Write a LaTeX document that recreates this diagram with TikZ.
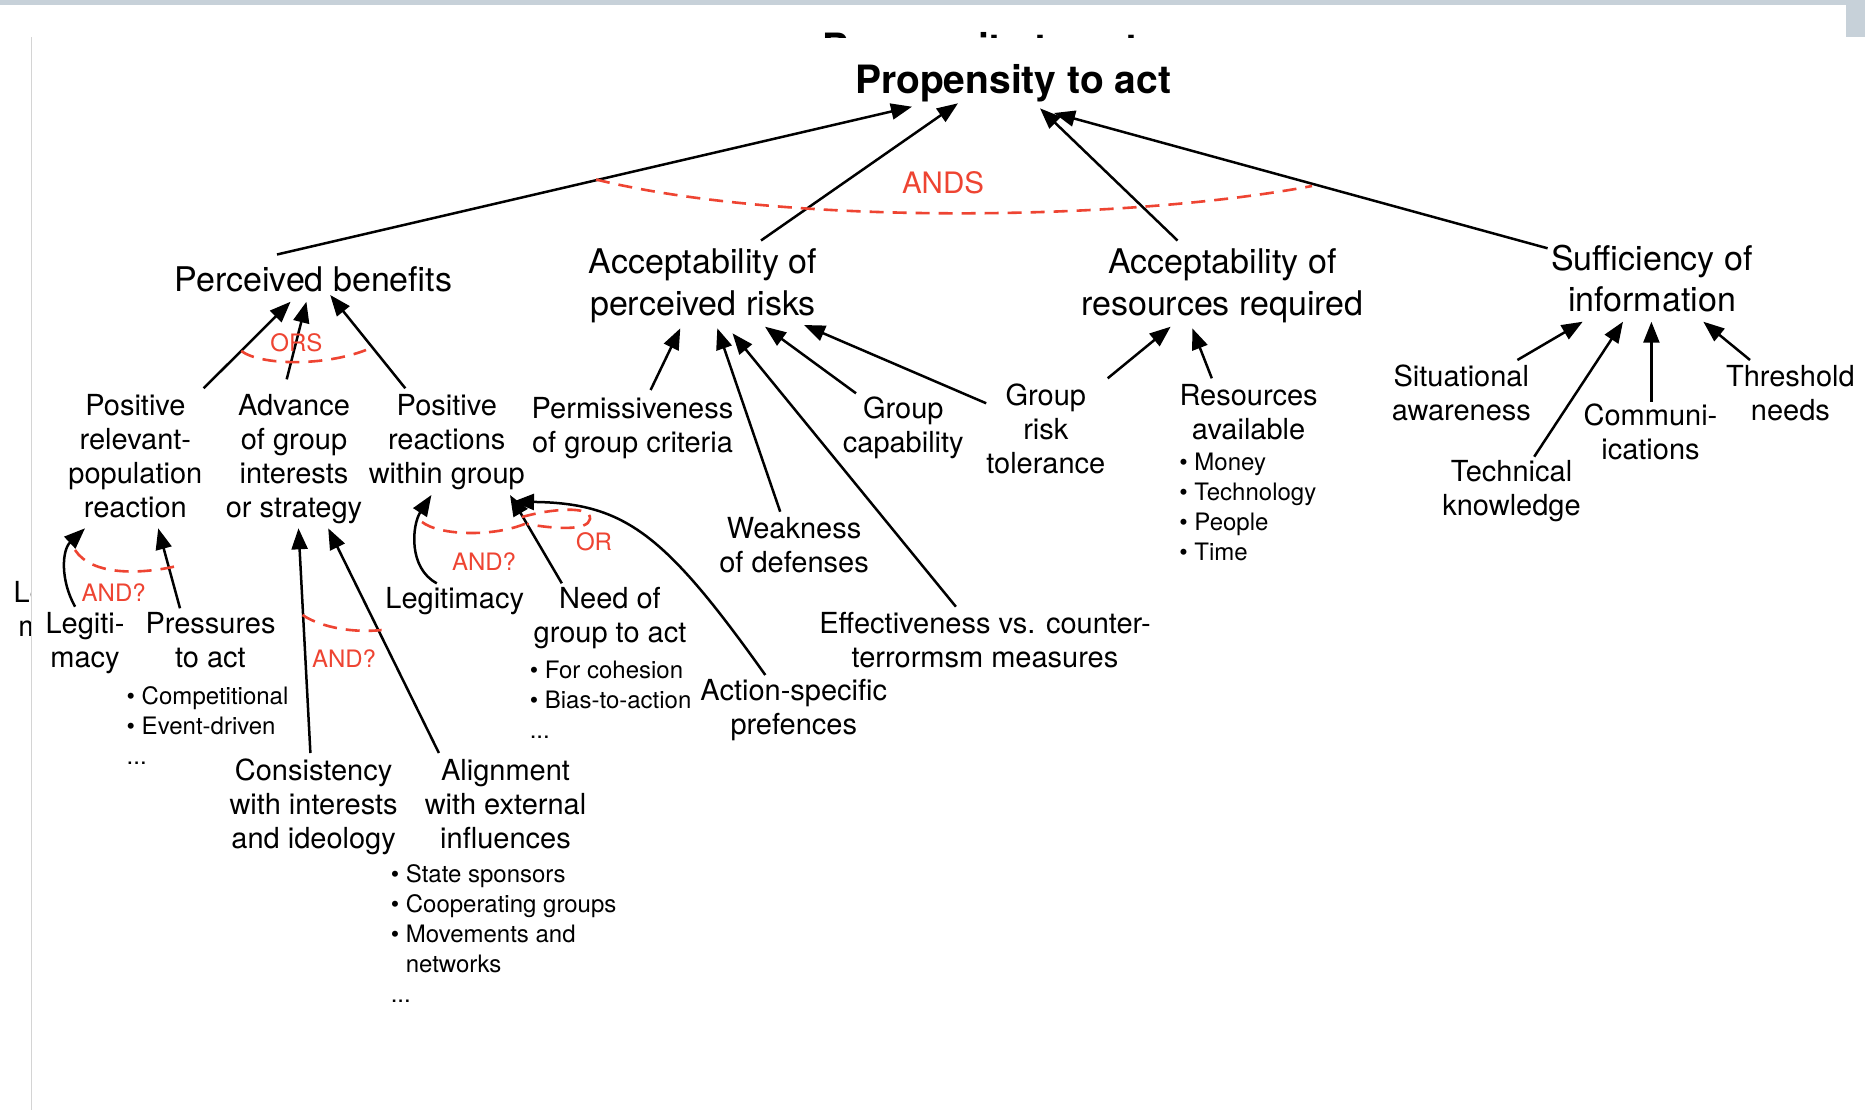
\documentclass[tikz,border=0pt]{standalone}
\usepackage{fontspec}
\setmainfont{TeX Gyre Heros}
\usetikzlibrary{arrows.meta,calc}
\definecolor{andred}{RGB}{238,68,50}
\definecolor{framegrey}{RGB}{199,209,217}
\definecolor{edgegrey}{RGB}{212,212,212}

\begin{document}
\begin{tikzpicture}[x=1pt,y=-1pt,
  titlestyle/.style={font=\bfseries\fontsize{39}{45}\selectfont, anchor=base, inner sep=0pt},
  lvtwo/.style={font=\fontsize{34}{41.7}\selectfont, align=center, anchor=base, inner sep=0pt},
  lvthree/.style={font=\fontsize{29}{34}\selectfont, align=center, anchor=base, inner sep=0pt},
  bullets/.style={font=\fontsize{24}{30}\selectfont, align=left, anchor=base west, inner sep=0pt},
  redlbl/.style={text=andred, font=\fontsize{24}{24}\selectfont, anchor=base, inner sep=0pt},
  arr/.style={line width=2.5pt, -{Triangle[length=21pt,width=16pt]}},
  ruledash/.style={draw=andred, line width=2.6pt, dash pattern=on 14pt off 9pt},
]
% multi-line nodes are placed by the baseline of their last line
\useasboundingbox (0,0) rectangle (1865,1110);
\fill[white] (0,0) rectangle (1865,1110);

% window frame
\fill[framegrey] (0,0) rectangle (1865,5);
\fill[framegrey] (1846,0) rectangle (1865,36.7);
\draw[edgegrey, line width=1.3pt] (31.2,37.3) -- (31.2,1110);

% partly hidden layer behind the page
\begin{scope}
  \clip (600,5) rectangle (1400,37.3);
  \node[titlestyle] (ghosttitle) at (980,61.3) {Propensity to act};
\end{scope}
\begin{scope}
  \clip (0,37.3) rectangle (30.5,1110);
  \node[lvthree] (ghostleg) at (53,636) {Legiti-\\macy};
\end{scope}

% top goal
\node[titlestyle] (title) at (1013,94) {Propensity to act};

% second level
\node[lvtwo] (pb)   at (313.4,291.7) {Perceived benefits};
\node[lvtwo] (ar)   at (703,315)     {Acceptability of\\perceived risks};
\node[lvtwo] (ares) at (1222.4,315)  {Acceptability of\\resources required};
\node[lvtwo] (si)   at (1652,311.7)  {Sufficiency of\\information};

% third level
\node[lvthree] (prr)  at (135.4,517) {Positive\\relevant-\\population\\reaction};
\node[lvthree] (adv)  at (294,517)   {Advance\\of group\\interests\\or strategy};
\node[lvthree] (posr) at (446.8,483) {Positive\\reactions\\within group};
\node[lvthree] (perm) at (632.5,452.3) {Permissiveness\\of group criteria};
\node[lvthree] (gc)   at (903.3,452.3) {Group\\capability};
\node[lvthree] (grt)  at (1045.8,473)  {Group\\risk\\tolerance};
\node[lvthree] (ra)   at (1248.6,439)  {Resources\\available};
\node[bullets] (ralist) at (1179.2,560) {\textbullet{} Money\\\textbullet{} Technology\\\textbullet{} People\\\textbullet{} Time};
\node[lvthree] (sa)   at (1461.3,420.7) {Situational\\awareness};
\node[lvthree] (th)   at (1790.4,420.7) {Threshold\\needs};
\node[lvthree] (com)  at (1650.5,459)   {Communi-\\ications};
\node[lvthree] (tk)   at (1511.5,515.7) {Technical\\knowledge};
\node[lvthree] (wd)   at (794,572.3)    {Weakness\\of defenses};
\node[lvthree] (eff)  at (985,667.3)    {Effectiveness vs. counter-\\terrormsm measures};
\node[lvthree] (asp)  at (793.8,734.7)  {Action-specific\\prefences};

% fourth level
\node[lvthree] (leg2) at (454.7,608)   {Legitimacy};
\node[lvthree] (need) at (610,642.3)   {Need of\\group to act};
\node[bullets] (needlist) at (529.6,738.7) {\textbullet{} For cohesion\\\textbullet{} Bias-to-action\\...};
\node[lvthree] (leg1) at (85,667)      {Legiti-\\macy};
\node[lvthree] (pta)  at (210.5,667)   {Pressures\\to act};
\node[bullets] (ptalist) at (126.5,764) {\textbullet{} Competitional\\\textbullet{} Event-driven\\...};
\node[lvthree] (cons) at (313.6,848)   {Consistency\\with interests\\and ideology};
\node[lvthree] (aln)  at (505.5,848)   {Alignment\\with external\\influences};
\node[bullets] (alnlist) at (390.6,1002) {\textbullet{} State sponsors\\\textbullet{} Cooperating groups\\\textbullet{} Movements and\\\phantom{\textbullet{} }networks\\...};

% connectors into the top goal
\draw[arr] ($(pb.base)+(-36.4,-37.2)$) -- ($(title.base)+(-101,12.7)$);
\draw[arr] ($(ar.base)+(58,-74.5)$) -- ($(title.base)+(-55,9.3)$);
\draw[arr] ($(ares.base)+(-44.9,-74.5)$) -- ($(title.base)+(27,14.3)$);
\draw[arr] ($(si.base)+(-104.4,-63.4)$) -- ($(title.base)+(41,19)$);

% connectors into perceived benefits
\draw[arr] ($(prr.base)+(68.2,-128.7)$) -- ($(pb.base)+(-22.8,10)$);
\draw[arr] ($(adv.base)+(-7.3,-137.7)$) -- ($(pb.base)+(-7,10)$);
\draw[arr] ($(posr.base)+(-41.5,-94.7)$) -- ($(pb.base)+(16.8,3.3)$);

% connectors into acceptability of perceived risks
\draw[arr] ($(perm.base)+(18.1,-62.3)$) -- ($(ar.base)+(-22.7,13.3)$);
\draw[arr] ($(wd.base)+(-13.8,-60.6)$) -- ($(ar.base)+(14.3,13.3)$);
\draw[arr] ($(eff.base)+(-29.1,-60.6)$) -- ($(ar.base)+(29.5,18.3)$);
\draw[arr] ($(gc.base)+(-47.3,-59)$) -- ($(ar.base)+(62,11.7)$);
\draw[arr] ($(grt.base)+(-59.6,-69.7)$) -- ($(ar.base)+(101,10)$);

% connectors into acceptability of resources required
\draw[arr] ($(grt.base)+(61.9,-94.7)$) -- ($(ares.base)+(-51.8,11.7)$);
\draw[arr] ($(ra.base)+(-36.8,-60.7)$) -- ($(ares.base)+(-30.1,13.3)$);

% connectors into sufficiency of information
\draw[arr] ($(sa.base)+(56.1,-60.7)$) -- ($(si.base)+(-69.3,10)$);
\draw[arr] ($(tk.base)+(22.7,-59)$) -- ($(si.base)+(-29,10)$);
\draw[arr] ($(com.base)+(0.9,-57.3)$) -- ($(si.base)+(-0.6,10)$);
\draw[arr] ($(th.base)+(-40.4,-60.7)$) -- ($(si.base)+(51.3,10)$);

% connectors into positive relevant-population reaction
\draw[arr] ($(leg1.base)+(-9.9,-60.3)$) .. controls +(-15,-26.7) and +(-23,21.7) .. ($(prr.base)+(-50.4,11.3)$);
\draw[arr] ($(pta.base)+(-30.5,-58.7)$) -- ($(prr.base)+(22.8,11.3)$);

% connectors into advance of group interests
\draw[arr] ($(cons.base)+(-3.2,-95)$) -- ($(adv.base)+(4.5,11.3)$);
\draw[arr] ($(aln.base)+(-66.6,-95)$) -- ($(adv.base)+(34.2,11.3)$);

% connectors into positive reactions within group
\draw[arr] ($(leg2.base)+(-17.9,-24.7)$) .. controls +(-28.8,-15.3) and +(-19.4,30) .. ($(posr.base)+(-15.4,12)$);
\draw[arr] ($(need.base)+(-48.2,-59)$) -- ($(posr.base)+(63.2,12)$);
\draw[arr] ($(asp.base)+(-28.5,-59.7)$) .. controls +(-100.3,-141) and +(112,1.3) .. ($(posr.base)+(66.2,18.7)$);

% combination marks
\draw[ruledash] (596,179.5) .. controls (780,225) and (1120,222) .. (1312,186);
\node[redlbl, font=\fontsize{29.5}{30}\selectfont] (ands) at (943,193.3) {ANDS};

\draw[ruledash] (241.2,351) .. controls (262,366) and (325,366) .. (366,350);
\node[redlbl] (ors) at (296.5,351.7) {ORS};

\draw[ruledash] (75,550) .. controls (92,576) and (140,574) .. (174,566.7);
\node[redlbl] (andl) at (113.7,601.5) {AND?};

\draw[ruledash] (302.5,615) .. controls (322,628) and (355,633) .. (381.6,630);
\node[redlbl] (andm) at (344,667) {AND?};

\draw[ruledash] (422,522) .. controls (440,536) and (495,537) .. (527,523);
\node[redlbl] (andr) at (484,570) {AND?};

\draw[ruledash] (522,517) .. controls (550,509) and (592,505) .. (590,519) .. controls (588,531) and (555,529) .. (527,524);
\node[redlbl] (orr) at (594,550) {OR};

\end{tikzpicture}
\end{document}
